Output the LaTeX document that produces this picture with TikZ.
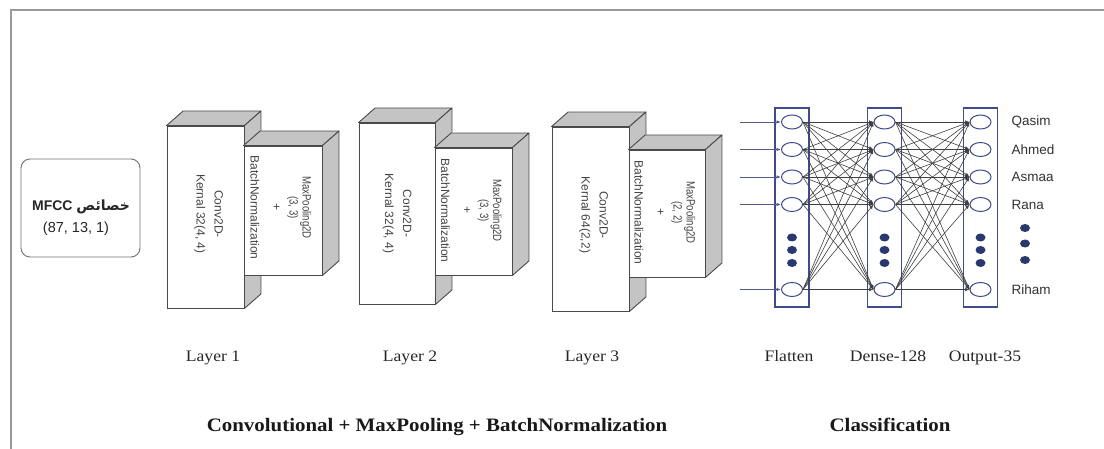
\documentclass[tikz,border=0pt]{standalone}
\usepackage{fontspec}
\usepackage{graphicx}
\setmainfont{Liberation Serif}
\newfontfamily\lsans{Liberation Sans}
\newfontfamily\serifwide[FakeStretch=1.1]{Liberation Serif}
\newfontfamily\arabicfont[Script=Arabic]{DejaVu Sans}
\usetikzlibrary{shapes.geometric,arrows.meta,calc}
\TeXXeTstate=1
\definecolor{navy}{HTML}{3E4C8E}
\definecolor{navydot}{HTML}{2A3870}
\definecolor{facegray}{HTML}{C4C4C4}
\definecolor{edgegray}{HTML}{4A4A4A}
\definecolor{txtgray}{HTML}{444444}
\newcommand\narrowtxt[1]{\scalebox{0.8}[1]{#1}}
\newcommand\prismblock[7]{%
  \node[front, minimum width=#4pt, minimum height=#5pt] (#1) at (#2,#3) {};
  \draw[face] (#1.north west) -- ++(16.5,-14.5) -- ($(#1.north east)+(16.5,-14.5)$) -- (#1.north east) -- cycle;
  \draw[face] (#1.north east) -- ++(16.5,-14.5) -- ($(#1.south east)+(16.5,-14.5)$) -- (#1.south east) -- cycle;
  \node[boxtext] (#1t) at ($(#1.center)+(#7)$) {#6};
}
\begin{document}
\begin{tikzpicture}[x=1pt,y=-1pt,
  front/.style={draw=edgegray, fill=white, line width=0.9pt, inner sep=0pt, rectangle},
  face/.style={draw=edgegray, fill=facegray, line width=0.9pt, line join=round},
  boxtext/.style={rotate=-90, font=\lsans\fontsize{12}{18}\selectfont, text=txtgray, align=center},
  col/.style={draw=navy, line width=1.3pt, rectangle, inner sep=0pt, minimum width=34pt, minimum height=199pt},
  neuron/.style={ellipse, draw=navy, line width=1pt, fill=white, minimum width=21pt, minimum height=14pt, inner sep=0pt},
  ndot/.style={ellipse, fill=navydot, minimum width=10pt, minimum height=8pt, inner sep=0pt},
  conn/.style={draw=black!75, line width=0.6pt, -{Latex[length=4.5pt,width=3.5pt]}},
  inarrow/.style={draw=navy!70!gray, line width=0.9pt, -{Latex[length=4.5pt,width=3.5pt]}},
  lab/.style={font=\lsans\fontsize{13.5}{16}\selectfont, text=black!80, anchor=west},
  layerlab/.style={font=\serifwide\fontsize{16}{18}\selectfont, text=black!85, anchor=base},
  title/.style={font=\serifwide\bfseries\fontsize{19}{22}\selectfont, text=black!90, anchor=base}
]
\useasboundingbox (0,0) rectangle (1104,449);
\fill[white] (0,0) rectangle (1104,449);
% frame
\draw[gray!80, line width=1.5pt] (1104,10) -- (11,10) -- (11,449);

% input box
\node[draw=gray!90!black, line width=0.9pt, rounded corners=9pt, minimum width=119pt, minimum height=98pt, inner sep=0pt] (mfcc) at (80.5,208) {};
\node[font=\lsans\bfseries\fontsize{14}{16}\selectfont, text=black!85] (mfcct) at (81,207) {MFCC {\arabicfont\bfseries\beginR خصائص\endR}};
\node[font=\lsans\fontsize{14.5}{16}\selectfont, text=black!85] (mfccs) at (76,229) {(87, 13, 1)};

% layer 1
\prismblock{c1}{205.5}{217}{77}{182}{Conv2D-\\Kernal 32(4, 4)}{3,-3}
\prismblock{p1}{283}{210.5}{78}{129}{\narrowtxt{MaxPooling2D}\\[-5pt]\narrowtxt{(3, 3)}\\[-1pt]+\\[4pt]BatchNormalization}{-2,-3}
% layer 2
\prismblock{c2}{397}{213.5}{76}{181}{Conv2D-\\Kernal 32(4, 4)}{0,0}
\prismblock{p2}{473.5}{211.5}{77}{127}{\narrowtxt{MaxPooling2D}\\[-5pt]\narrowtxt{(3, 3)}\\[-1pt]+\\[4pt]BatchNormalization}{-2,-1}
% layer 3
\prismblock{c3}{590.5}{219}{77}{184}{Conv2D-\\Kernal 64(2,2)}{3,-4}
\prismblock{p3}{667}{213.5}{76}{127}{\narrowtxt{MaxPooling2D}\\[-5pt]\narrowtxt{(2, 2)}\\[-1pt]+\\[4pt]BatchNormalization}{-2,-1}

% columns
\node[col] (fcol) at (792,207.5) {};
\node[col] (dcol) at (884.5,207.5) {};
\node[col] (ocol) at (980.5,207.5) {};

\foreach \i/\y in {1/122,2/149.5,3/177,4/204.5,5/289.5}{
  \node[neuron] (f\i) at (792,\y) {};
  \node[neuron] (d\i) at (884.5,\y) {};
  \node[neuron] (o\i) at (980.5,\y) {};
  \coordinate (in\i) at (740,\y);
}
\foreach \k/\y in {1/237.5,2/250,3/263}{
  \node[ndot] (fd\k) at (792,\y) {};
  \node[ndot] (dd\k) at (884.5,\y) {};
  \node[ndot] (od\k) at (980.5,\y) {};
}
\foreach \i in {1,...,5}{
  \draw[inarrow] (in\i) -- (f\i.west);
  \foreach \j in {1,...,5}{
    \draw[conn] (f\i.east) -- (d\j.west);
    \draw[conn] (d\i.east) -- (o\j.west);
  }
}
% output labels
\foreach \i/\t in {1/Qasim,2/Ahmed,3/Asmaa,4/Rana,5/Riham}{
  \node[lab] (l\i) at ($(o\i.center)+(27.5,0)$) {\t};
}
\foreach \k/\y in {1/228,2/243.5,3/260}{
  \node[ndot] (ld\k) at (1025,\y) {};
}

% labels
\node[layerlab] (lay1) at (213,362) {Layer 1};
\node[layerlab] (lay2) at (410,362) {Layer 2};
\node[layerlab] (lay3) at (592,362) {Layer 3};
\node[layerlab] (flat) at (789,362) {Flatten};
\node[layerlab] (dense) at (888,362) {Dense-128};
\node[layerlab] (outl) at (985,362) {Output-35};
\node[title] (t1) at (437,431) {Convolutional + MaxPooling + BatchNormalization};
\node[title] (t2) at (890,431) {Classification};
\end{tikzpicture}
\end{document}
